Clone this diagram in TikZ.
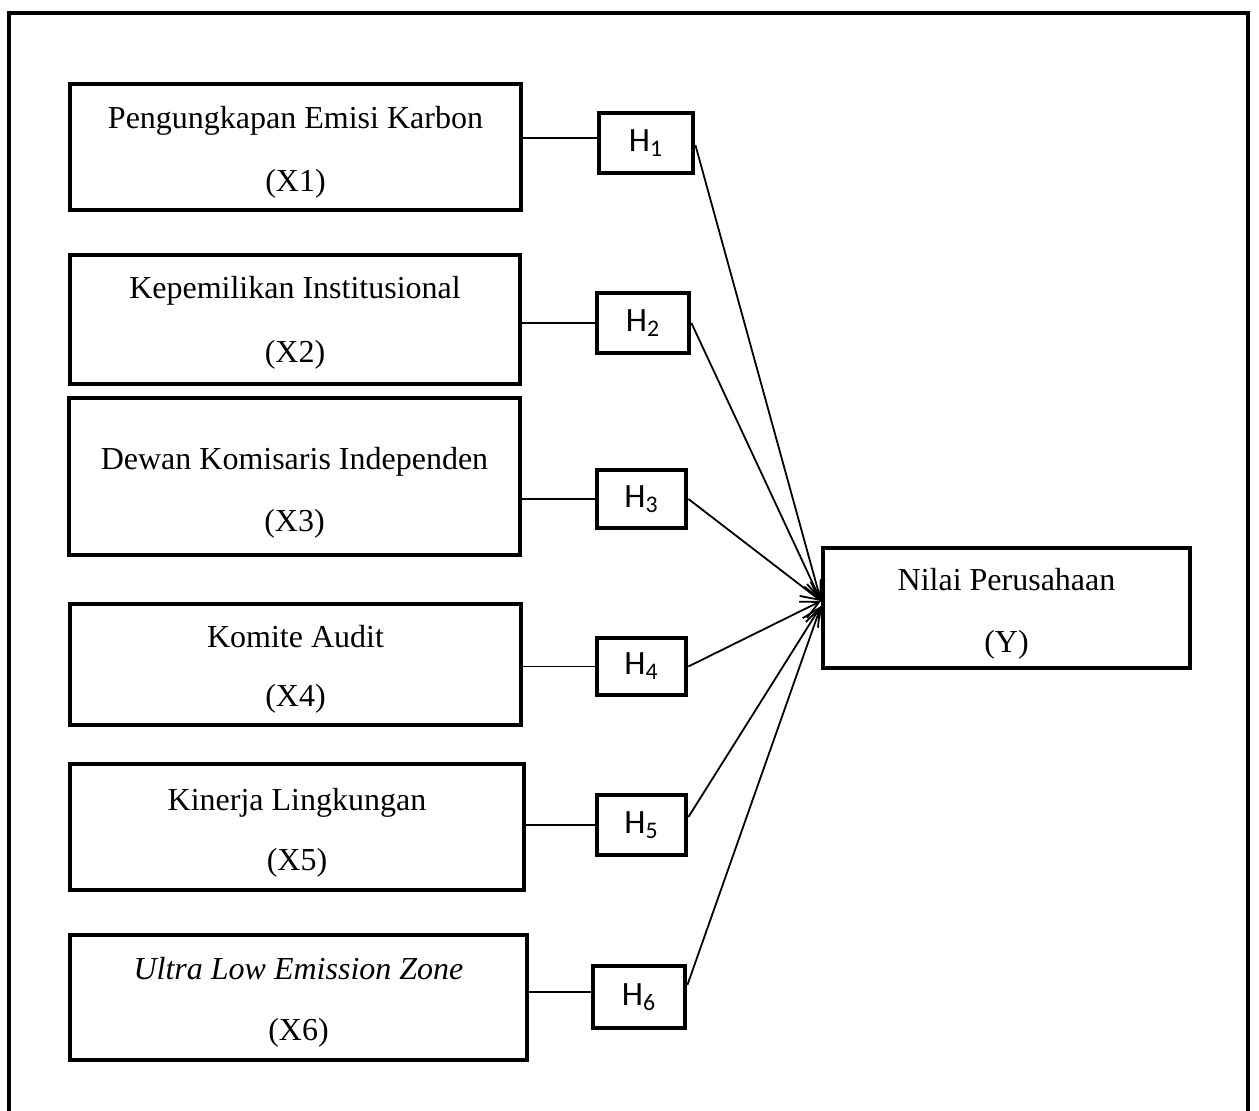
\documentclass[tikz,border=0pt]{standalone}
\usepackage{fontspec}
\setmainfont{Liberation Serif}
\newfontfamily\hfont{Carlito}
\usetikzlibrary{arrows.meta}
\tikzset{
  varbox/.style={draw, line width=2.4pt, rectangle, inner sep=0pt},
  hbox/.style={draw, line width=2.4pt, rectangle, inner sep=0pt, font=\hfont\fontsize{17}{19}\selectfont},
  vtext/.style={font=\fontsize{16}{18}\selectfont, inner sep=0pt, text height=0.7em, text depth=0.22em, yshift=-3pt},
  link/.style={line width=0.9pt},
  arr/.style={line width=0.9pt, -{Straight Barb[length=9pt,width=9pt]}},
}
\begin{document}
\begin{tikzpicture}[x=0.5pt,y=-0.5pt]
\useasboundingbox (0,0) rectangle (1259,1111);
% outer frame (bottom edge outside page)
\draw[line width=2.4pt] (9,1130) -- (9,13) -- (1248,13) -- (1248,1130);

% variable boxes
\node[varbox, minimum width=225.5pt, minimum height=63pt] (x1) at (295.5,147) {};
\node[varbox, minimum width=225pt, minimum height=64.5pt] (x2) at (295,319.5) {};
\node[varbox, minimum width=225.5pt, minimum height=78.5pt] (x3) at (294.5,476.5) {};
\node[varbox, minimum width=225.5pt, minimum height=60.5pt] (x4) at (295.5,664.5) {};
\node[varbox, minimum width=227pt, minimum height=63pt] (x5) at (297,827) {};
\node[varbox, minimum width=228.5pt, minimum height=62.5pt] (x6) at (298.5,997.5) {};
\node[varbox, minimum width=183.5pt, minimum height=60pt] (y) at (1006.5,608) {};

% texts
\node[vtext] (t1a) at (295.5,118) {Pengungkapan Emisi Karbon};
\node[vtext] (t1b) at (295.5,181) {(X1)};
\node[vtext] (t2a) at (295,288) {Kepemilikan Institusional};
\node[vtext] (t2b) at (295,352) {(X2)};
\node[vtext] (t3a) at (294.5,459) {Dewan Komisaris Independen};
\node[vtext] (t3b) at (294.5,521) {(X3)};
\node[vtext] (t4a) at (295.5,637) {Komite Audit};
\node[vtext] (t4b) at (295.5,696) {(X4)};
\node[vtext] (t5a) at (297,800) {Kinerja Lingkungan};
\node[vtext] (t5b) at (297,860) {(X5)};
\node[vtext] (t6a) at (298.5,969) {\itshape Ultra Low Emission Zone};
\node[vtext] (t6b) at (298.5,1030) {(X6)};
\node[vtext] (tya) at (1006.5,580) {Nilai Perusahaan};
\node[vtext] (tyb) at (1006.5,642) {(Y)};

% hypothesis boxes
\node[hbox, minimum width=47pt, minimum height=30pt] (h1) at (646,143) {H\textsubscript{1}};
\node[hbox, minimum width=46pt, minimum height=30pt] (h2) at (643,323) {H\textsubscript{2}};
\node[hbox, minimum width=44.5pt, minimum height=29pt] (h3) at (641.5,499) {H\textsubscript{3}};
\node[hbox, minimum width=44.5pt, minimum height=28.5pt] (h4) at (641.5,666.5) {H\textsubscript{4}};
\node[hbox, minimum width=44.5pt, minimum height=30pt] (h5) at (641.5,825) {H\textsubscript{5}};
\node[hbox, minimum width=46pt, minimum height=31pt] (h6) at (639,997) {H\textsubscript{6}};

% links from variables to hypotheses
\draw[link] ([yshift=2.5pt]h1.west) -- ([yshift=2.5pt]h1.west -| x1.east);
\draw[link] (h2.west) -- (h2.west -| x2.east);
\draw[link] (h3.west) -- (h3.west -| x3.east);
\draw[link] (h4.west) -- (h4.west -| x4.east);
\draw[link] (h5.west) -- (h5.west -| x5.east);
\draw[link] ([yshift=2.5pt]h6.west) -- ([yshift=2.5pt]h6.west -| x6.east);

% arrows into Y
\coordinate (c1) at (821,601);
\coordinate (c2) at (821,606);
\draw[arr] ([yshift=-1pt]h1.east) -- (c1);
\draw[arr] (h2.east) -- (c1);
\draw[arr] (h3.east) -- (c1);
\draw[arr] (h4.east) -- (c1);
\draw[arr] ([yshift=4pt]h5.east) -- (c2);
\draw[arr] ([yshift=6pt]h6.east) -- (c2);
\end{tikzpicture}
\end{document}
